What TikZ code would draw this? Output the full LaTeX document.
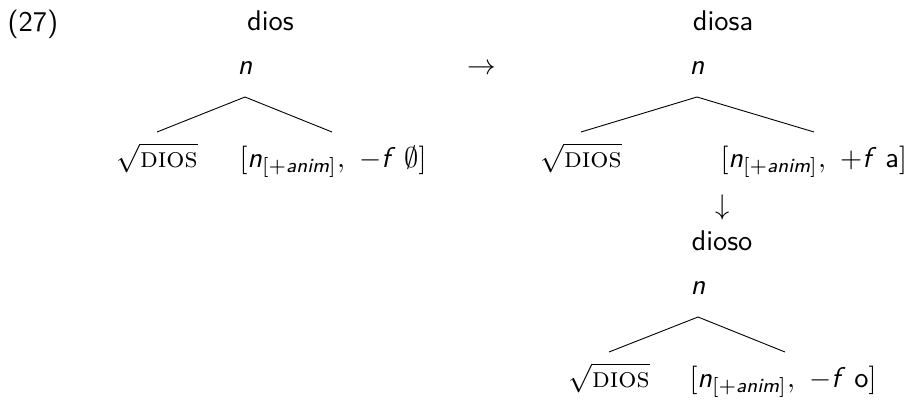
\documentclass[tikz,border=0pt]{standalone}
\usepackage{amsmath}
\newcommand\sfi[1]{\textsf{\slshape #1}}
\newcommand\featb[2]{$[\sfi{n}_{[+\sfi{anim}]},\ #1\sfi{f}\ \,#2]$}
\newcommand\rootdios{$\sqrt{\textrm{\scshape dios}}$}
\tikzset{
  lbl/.style={anchor=base, inner sep=0pt, scale=2.85, transform shape, font=\sffamily},
  branch/.style={line width=0.9pt}
}
\begin{document}
\begin{tikzpicture}[x=1pt,y=-1pt]
\useasboundingbox (0,0) rectangle (909,399);
% example number
\node[lbl, anchor=base west] (num) at (7,31) {(27)};
% left tree
\node[lbl] (lw) at (270.5,30) {dios};
\node[lbl] (ln) at (245,74) {\sfi{n}};
\coordinate (la) at (245,97);
\coordinate (ll) at (157,132);
\coordinate (lr) at (332,132);
\draw[branch] (ll) -- (la) -- (lr);
\node[lbl] (lroot) at (157,167) {\rootdios};
\node[lbl, anchor=base west] (lfeat) at (239,167) {\featb{-}{\emptyset}};
% arrow
\node[lbl] (arr) at (482,74) {$\rightarrow$};
% right tree
\node[lbl] (rw) at (723,30) {diosa};
\node[lbl] (rn) at (697,74) {\sfi{n}};
\coordinate (ra) at (697,97);
\coordinate (rl) at (581,132);
\coordinate (rr) at (814,132);
\draw[branch] (rl) -- (ra) -- (rr);
\node[lbl] (rroot) at (581,167) {\rootdios};
\node[lbl, anchor=base west] (rfeat) at (720,167) {\featb{+}{\text{a}}};
% down arrow
\node[lbl] (darr) at (723,214) {$\downarrow$};
% bottom tree
\node[lbl] (bw) at (722,250) {dioso};
\node[lbl] (bn) at (698,294) {\sfi{n}};
\coordinate (ba) at (698,317);
\coordinate (bl) at (609,352);
\coordinate (br) at (785,352);
\draw[branch] (bl) -- (ba) -- (br);
\node[lbl] (broot) at (609,387) {\rootdios};
\node[lbl, anchor=base west] (bfeat) at (689,387) {\featb{-}{\text{o}}};
\end{tikzpicture}
\end{document}
